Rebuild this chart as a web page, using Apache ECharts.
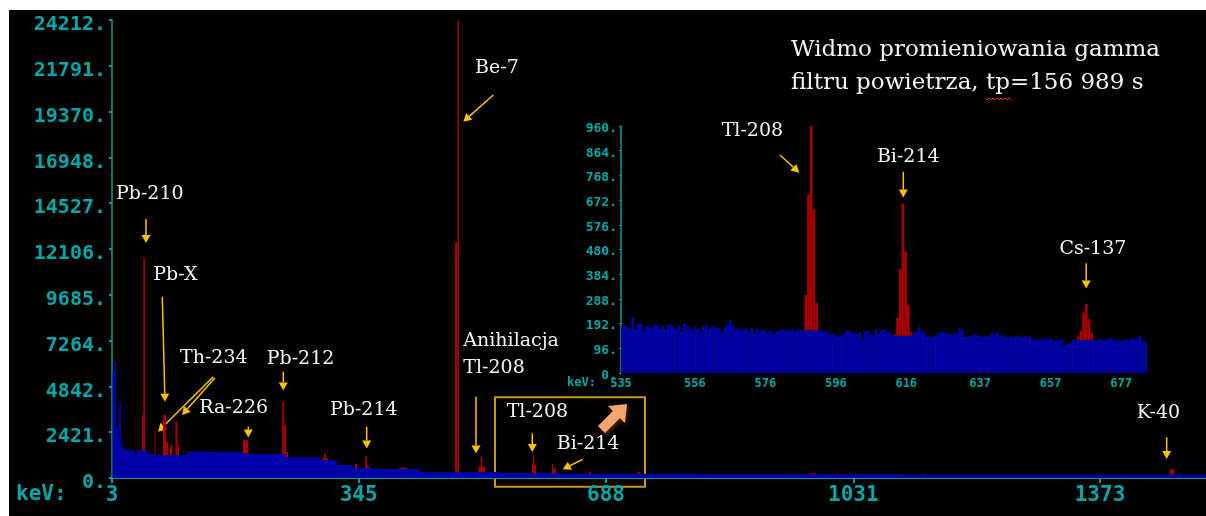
<!DOCTYPE html>
<html>
<head>
<meta charset="utf-8">
<script src="https://cdn.jsdelivr.net/npm/echarts@6/dist/echarts.min.js"></script>
<style>
html,body{margin:0;padding:0;background:#fff;width:1206px;height:516px;overflow:hidden;}
#c{position:absolute;left:9px;top:10px;width:1197px;height:506px;}
</style>
</head>
<body>
<div id="c"></div>
<script>
// ---------- DATA ----------
// Main spectrum: continuum (blue) as step segments, edges in keV
const contEdges = [3.7, 5.8, 8.5, 11.3, 12.7, 15.5, 16.9, 19.6, 23.8, 29.3, 32.1, 34.9, 37.7, 51.5, 65.4, 107.0, 143.0, 184.6, 245.7, 291.4, 315.0, 337.2, 364.9, 430.1, 541.0, 624.2, 818.3, 1095.6, 1373.0, 1520];
const contCounts = [5600, 6150, 2700, 2300, 4030, 1900, 1650, 1500, 1450, 1480, 1350, 1220, 1480, 1270, 1216, 1390, 1375, 1270, 1094, 950, 690, 530, 476, 317, 260, 230, 200, 190, 180];
// Main spectrum peaks (red): [keV start, keV end, top count, base count]
const mainPeaks = [
  [44.6, 46.4, 3330, 1480], [46.4, 48.8, 11630, 1480],
  [73.7, 77.9, 3330, 1216], [77.9, 80.6, 1900, 1216],
  [83.4, 86.9, 1740, 1216], [91.0, 93.8, 2980, 1216], [93.8, 95.9, 1740, 1216],
  [184.6, 191.6, 2000, 1300],
  [239.1, 241.5, 4030, 1270], [241.5, 244.3, 2800, 1270], [244.3, 247.0, 1380, 1094],
  [294.2, 302.5, 1050, 950], [297.0, 299.7, 1300, 950],
  [339.9, 342.7, 740, 530], [354.2, 356.6, 1160, 530], [356.6, 359.4, 600, 530],
  [401.0, 412.1, 540, 476],
  [478.6, 482.0, 12480, 317], [482.0, 484.1, 24212, 317],
  [511.2, 520.2, 600, 317], [514.2, 516.5, 1130, 317],
  [585.4, 590.9, 690, 260], [586.4, 588.6, 1130, 260],
  [613.1, 618.7, 510, 260], [613.1, 615.2, 724, 260],
  [664.4, 667.2, 330, 230], [730.9, 735.1, 300, 230],
  [970.8, 979.1, 250, 200], [1006.9, 1009.7, 250, 200], [1127.5, 1130.3, 240, 190],
  [1470.0, 1476.3, 460, 180]
];
const darkPeaks = [[61.9, 64.0, 2540, 1270]];
const mainXTicks = [3, 345, 688, 1031, 1373];
const mainYTicks = [0, 2421, 4842, 7264, 9685, 12106, 14527, 16948, 19370, 21791, 24212];

// Inset: channels from 535 keV, 0.766 keV each
const insetStart = 535;
const insetWidth = 0.766;
const insetCounts = [
  181, 184, 178, 176, 218, 168, 192, 190, 158, 184,
  176, 180, 186, 188, 170, 184, 168, 186, 188, 178,
  172, 184, 158, 194, 182, 176, 170, 178, 172, 158,
  180, 192, 170, 174, 184, 176, 170, 153, 178, 188,
  205, 184, 170, 174, 166, 172, 168, 160, 176, 154,
  172, 163, 168, 162, 158, 164, 150, 162, 166, 168,
  170, 164, 166, 168, 160, 166, 170, 166, 166, 166,
  166, 166, 166, 168, 166, 158, 162, 150, 154, 148,
  140, 146, 152, 164, 166, 154, 158, 150, 160, 132,
  162, 164, 150, 146, 172, 152, 165, 168, 158, 160,
  150, 145, 145, 145, 145, 145, 145, 145, 158, 160,
  180, 162, 158, 140, 142, 138, 145, 155, 158, 160,
  154, 152, 148, 156, 150, 175, 168, 140, 138, 144,
  150, 152, 146, 142, 140, 144, 142, 155, 150, 158,
  146, 148, 140, 138, 142, 140, 144, 146, 138, 144,
  142, 146, 129, 132, 128, 130, 133, 136, 130, 134,
  126, 128, 124, 130, 107, 112, 120, 129, 129, 129,
  129, 129, 129, 129, 129, 129, 126, 132, 128, 130,
  133, 136, 130, 126, 128, 124, 129, 132, 126, 133,
  130, 136, 145, 119, 122
];
const insetPeakCh  = [68, 69, 70, 71, 72, 101, 102, 103, 104, 105, 106, 107, 169, 170, 171, 172, 173, 174];
const insetPeakTop = [304, 693, 960, 637, 272, 150, 214, 405, 659, 473, 265, 158, 142, 165, 236, 269, 210, 155];
const insetXTicks = [535, 556, 576, 596, 616, 637, 657, 677];
const insetYTicks = [0, 96, 192, 288, 384, 480, 576, 672, 768, 864, 960];

// ---------- BUILD ----------
const TEAL = '#00a8a8', AXIS = '#129a9a', BLUE = '#0000a8', RED = '#a80000', DARKRED = '#5c0000', GOLD = '#ffc000';
const MONO = "'DejaVu Sans Mono', 'Liberation Mono', monospace";
const SERIF = "'DejaVu Serif', 'Liberation Serif', serif";

const contData = contCounts.map((c, i) => [contEdges[i], contEdges[i + 1], c, 0]);
const insetCont = insetCounts.map((c, i) => [insetStart + i * insetWidth, insetStart + (i + 1) * insetWidth, c, 0]);
const insetPk = insetPeakCh.map((ch, k) => [insetStart + ch * insetWidth, insetStart + (ch + 1) * insetWidth, insetPeakTop[k], insetCounts[ch]]);
const insetMax = insetStart + insetCounts.length * insetWidth;

function rectItem(params, api) {
  const p0 = api.coord([api.value(0), api.value(2)]);
  const p1 = api.coord([api.value(1), api.value(3)]);
  return {
    type: 'rect',
    shape: { x: p0[0], y: p0[1], width: Math.max(p1[0] - p0[0], 1.2), height: p1[1] - p0[1] },
    style: { fill: api.visual('color') }
  };
}
function rectSeries(data, color, xi, z) {
  return { type: 'custom', xAxisIndex: xi, yAxisIndex: xi, renderItem: rectItem, data: data, z: z,
    itemStyle: { color: color }, encode: { x: [0, 1], y: [2, 3] }, animation: false, silent: true };
}

function arrow(x1, y1, x2, y2) {
  const dx = x2 - x1, dy = y2 - y1, L = Math.hypot(dx, dy), ux = dx / L, uy = dy / L;
  const hl = 8, hw = 4.5;
  const bx = x2 - ux * hl, by = y2 - uy * hl;
  return [
    { type: 'line', shape: { x1: x1, y1: y1, x2: bx, y2: by }, style: { stroke: GOLD, lineWidth: 1.5 } },
    { type: 'polygon', shape: { points: [[x2, y2], [bx - uy * hw, by + ux * hw], [bx + uy * hw, by - ux * hw]] }, style: { fill: GOLD } }
  ];
}
function label(text, x, y, size) {
  return { type: 'text', x: x, y: y, style: { text: text, fill: '#f4f4f4', font: (size || 19) + 'px ' + SERIF, verticalAlign: 'middle', align: 'left' } };
}
function tealText(text, x, y, size) {
  return { type: 'text', x: x, y: y, style: { text: text, fill: TEAL, font: 'bold ' + size + 'px ' + MONO, verticalAlign: 'middle', align: 'left' } };
}

const annot = [];
[
  [146, 219, 146, 243], [162.3, 296.7, 165, 401.7], [213.3, 376.7, 158, 431.7], [214.8, 378, 182, 415],
  [248.3, 426.7, 248.3, 437.5], [283.3, 371.7, 283.3, 390.5], [366.7, 426.7, 366.7, 448.5],
  [493.3, 95, 463.3, 121.7], [476, 396.7, 476, 453.5], [532.3, 433.3, 532.3, 452],
  [582.7, 459.3, 562.7, 469.3], [1166.7, 437.3, 1166.7, 459],
  [780, 155, 799.3, 172.7], [903.3, 171.7, 903.3, 197.5], [1086.2, 263.3, 1086.2, 288.5]
].forEach(a => arrow(a[0], a[1], a[2], a[3]).forEach(e => annot.push(e)));

annot.push(
  label('Pb-210', 116, 194.5), label('Pb-X', 153.3, 275.5), label('Th-234', 180, 358),
  label('Pb-212', 266.7, 359), label('Ra-226', 199.3, 408), label('Pb-214', 330, 410),
  label('Be-7', 475, 68), label('Anihilacja', 463.3, 341.5), label('Tl-208', 463.3, 368.5),
  label('Tl-208', 506.7, 412.5), label('Bi-214', 556.7, 444), label('K-40', 1136.7, 413),
  label('Tl-208', 721.7, 131), label('Bi-214', 876.9, 157), label('Cs-137', 1059.4, 249),
  label('Widmo promieniowania gamma', 791, 50, 23), label('filtru powietrza, tp=156 989 s', 791, 83, 23),
  tealText('keV:', 16, 495, 21), tealText('keV:', 567, 383, 12)
);
// highlight box
annot.push({ type: 'rect', shape: { x: 495, y: 397.3, width: 150, height: 89.4 }, style: { fill: 'none', stroke: '#c8961e', lineWidth: 2 } });
// big orange arrow
annot.push({ type: 'polygon', shape: { points: [[598, 426], [612.9, 411.1], [607.9, 406.1], [627, 404], [624.9, 423.1], [619.9, 418.1], [605, 433]] },
  style: { fill: '#f4a46c', shadowBlur: 4, shadowColor: 'rgba(120,60,20,0.8)', shadowOffsetX: 1, shadowOffsetY: 2 } });
// spell-check squiggle under "tp"
const sq = [];
for (let x = 985; x <= 1012; x += 2) sq.push([x, (x - 985) % 4 === 0 ? 98 : 100]);
annot.push({ type: 'polyline', shape: { points: sq }, style: { stroke: '#e02020', lineWidth: 1, fill: 'none' } });

const chart = echarts.init(document.getElementById('c'), null, { renderer: 'canvas' });
chart.setOption({
  backgroundColor: '#000',
  animation: false,
  grid: [
    { left: 103, top: 10, right: 0, bottom: 38 },
    { left: 612, top: 116, width: 526, height: 247 }
  ],
  xAxis: [
    { gridIndex: 0, type: 'value', min: 3, max: 1520,
      axisLine: { onZero: false, lineStyle: { color: AXIS, width: 2 } },
      axisTick: { show: true, length: 5, customValues: mainXTicks, lineStyle: { color: AXIS, width: 2 } },
      axisLabel: { customValues: mainXTicks, formatter: v => String(v), color: TEAL, fontFamily: MONO, fontWeight: 'bold', fontSize: 21, margin: 7 },
      splitLine: { show: false } },
    { gridIndex: 1, type: 'value', min: insetStart, max: insetMax,
      axisLine: { show: false }, axisTick: { show: false, customValues: insetXTicks },
      axisLabel: { customValues: insetXTicks, formatter: v => String(v), color: TEAL, fontFamily: MONO, fontWeight: 'bold', fontSize: 12, margin: 5 },
      splitLine: { show: false } }
  ],
  yAxis: [
    { gridIndex: 0, type: 'value', min: 0, max: 24212,
      axisLine: { show: true, onZero: false, lineStyle: { color: AXIS, width: 1.5 } },
      axisTick: { show: true, length: 3, customValues: mainYTicks, lineStyle: { color: AXIS, width: 2 } },
      axisLabel: { customValues: mainYTicks, formatter: v => v + '.', color: TEAL, fontFamily: MONO, fontWeight: 'bold', fontSize: 20, margin: 6, verticalAlign: 'top', lineHeight: 10 },
      splitLine: { show: false } },
    { gridIndex: 1, type: 'value', min: 0, max: 960,
      axisLine: { show: true, onZero: false, lineStyle: { color: AXIS, width: 1.5 } },
      axisTick: { show: true, length: 2, customValues: insetYTicks, lineStyle: { color: AXIS } },
      axisLabel: { customValues: insetYTicks, formatter: v => v + '.', color: TEAL, fontFamily: MONO, fontWeight: 'bold', fontSize: 13, margin: 4, verticalAlign: 'top', lineHeight: 5 },
      splitLine: { show: false } }
  ],
  series: [
    rectSeries(contData, BLUE, 0, 2),
    rectSeries(mainPeaks, RED, 0, 3),
    rectSeries(darkPeaks, DARKRED, 0, 3),
    rectSeries(insetCont, BLUE, 1, 2),
    rectSeries(insetPk, RED, 1, 3)
  ],
  graphic: [{ type: 'group', x: -9, y: -10, z: 100, silent: true, children: annot }]
});
</script>
</body>
</html>
